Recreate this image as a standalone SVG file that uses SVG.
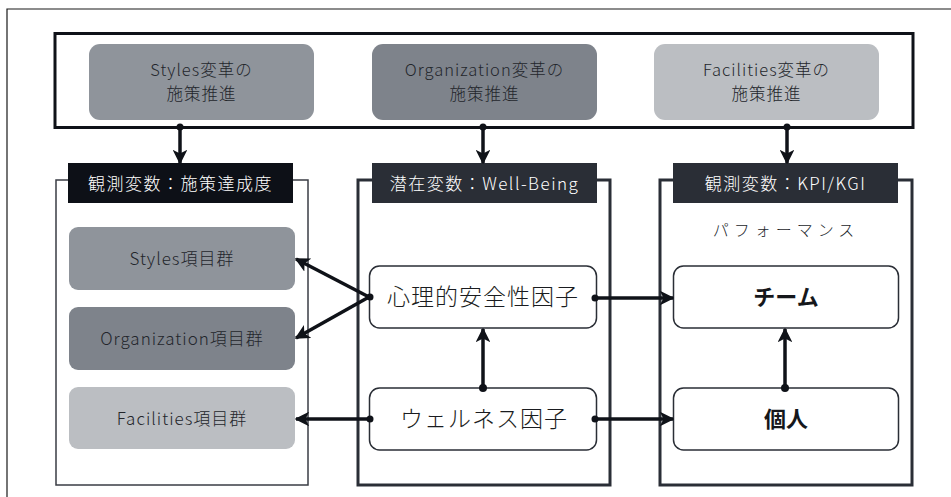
<svg xmlns="http://www.w3.org/2000/svg" width="951" height="497" viewBox="0 0 951 497">
<defs>
<style>
text{font-family:"Noto Sans CJK JP","Noto Sans",sans-serif;text-anchor:middle;font-weight:300;}
.t{font-size:16.5px;fill:#23262b;letter-spacing:1px;}
.lab{font-size:17px;fill:#ffffff;letter-spacing:1.5px;}
.item{font-size:17px;fill:#23262b;letter-spacing:1px;}
.big{font-size:23px;fill:#1a1c20;letter-spacing:1px;}
.bold{font-size:22px;font-weight:bold;fill:#15171b;}
.wbox{fill:#ffffff;stroke:#2a2e36;stroke-width:1.5;}
.conn{stroke:#0f1218;stroke-width:3.5;fill:none;}
</style>
<marker id="ah" viewBox="0 0 10 10" refX="9" refY="5" markerWidth="4.2" markerHeight="4.2" markerUnits="strokeWidth" orient="auto">
<path d="M0,0 L10,5 L0,10 L2.5,5 z" fill="#0f1218"/>
</marker>
</defs>
<rect x="0" y="0" width="951" height="497" fill="#ffffff"/>
<path d="M7,497 V9 H951" fill="none" stroke="#1a1a1a" stroke-width="1.2"/>

<g id="top-frame">
<rect x="55" y="33.5" width="858" height="94" fill="#ffffff" stroke="#0f1218" stroke-width="3"/>
</g>
<g id="styles-policy">
<rect x="89" y="44" width="225" height="76" rx="11" fill="#8f949b"/>
<text class="t" x="201.5" y="76">Styles変革の</text>
<text class="t" x="201.5" y="100">施策推進</text>
</g>
<g id="org-policy">
<rect x="372" y="44" width="225" height="76" rx="11" fill="#7e838b"/>
<text class="t" x="484.5" y="76">Organization変革の</text>
<text class="t" x="484.5" y="100">施策推進</text>
</g>
<g id="fac-policy">
<rect x="654" y="44" width="225" height="76" rx="11" fill="#bbbec2"/>
<text class="t" x="766.5" y="76">Facilities変革の</text>
<text class="t" x="766.5" y="100">施策推進</text>
</g>

<g id="left-panel">
<rect x="56" y="180" width="252" height="305" fill="#ffffff" stroke="#3a3d44" stroke-width="1.5"/>
<rect x="68" y="163" width="225" height="40" fill="#0d1017"/>
<text class="lab" x="180.5" y="190">観測変数：施策達成度</text>
</g>
<g id="styles-items">
<rect x="69" y="227" width="226" height="63" rx="9" fill="#8f949b"/>
<text class="item" x="182" y="264.5">Styles項目群</text>
</g>
<g id="org-items">
<rect x="69" y="307" width="226" height="63" rx="9" fill="#7e838b"/>
<text class="item" x="182" y="344.5">Organization項目群</text>
</g>
<g id="fac-items">
<rect x="69" y="387" width="226" height="62" rx="9" fill="#bbbec2"/>
<text class="item" x="182" y="424.5">Facilities項目群</text>
</g>

<g id="mid-panel">
<rect x="358" y="180" width="252" height="305" fill="#ffffff" stroke="#2a2e36" stroke-width="3"/>
<rect x="372" y="163" width="225" height="40" fill="#2a2e36"/>
<text class="lab" x="484.5" y="190">潜在変数：Well-Being</text>
</g>
<g id="psych-safety">
<rect class="wbox" x="369.5" y="266" width="227" height="62" rx="10"/>
<text class="big" x="483" y="305">心理的安全性因子</text>
</g>
<g id="wellness">
<rect class="wbox" x="369.5" y="388" width="227" height="62" rx="10"/>
<text class="big" x="484" y="427" letter-spacing="2">ウェルネス因子</text>
</g>

<g id="right-panel">
<rect x="660" y="180" width="252" height="305" fill="#ffffff" stroke="#2a2e36" stroke-width="3"/>
<rect x="673" y="163" width="225" height="40" fill="#2a2e36"/>
<text class="lab" x="785.5" y="190">観測変数：KPI/KGI</text>
<text x="786" y="236" font-size="16" fill="#23262b" letter-spacing="5">パフォーマンス</text>
</g>
<g id="team">
<rect class="wbox" x="673.5" y="266" width="225" height="62" rx="10"/>
<text class="bold" x="786" y="305">チーム</text>
</g>
<g id="individual">
<rect class="wbox" x="673.5" y="388" width="225" height="62" rx="10"/>
<text class="bold" x="786" y="427">個人</text>
</g>

<g id="connectors">
<line class="conn" x1="180" y1="127" x2="180" y2="163" marker-end="url(#ah)"/>
<circle cx="180" cy="127" r="3.5" fill="#0f1218"/>
<line class="conn" x1="483" y1="127" x2="483" y2="163" marker-end="url(#ah)"/>
<circle cx="483" cy="127" r="3.5" fill="#0f1218"/>
<line class="conn" x1="787" y1="127" x2="787" y2="163" marker-end="url(#ah)"/>
<circle cx="787" cy="127" r="3.5" fill="#0f1218"/>

<line class="conn" x1="369" y1="297" x2="296" y2="259" marker-end="url(#ah)"/>
<line class="conn" x1="369" y1="297" x2="296" y2="338" marker-end="url(#ah)"/>
<circle cx="370" cy="297" r="3.5" fill="#0f1218"/>
<line class="conn" x1="369" y1="419" x2="296" y2="419" marker-end="url(#ah)"/>
<circle cx="370" cy="419" r="3.5" fill="#0f1218"/>

<line class="conn" x1="483" y1="388" x2="483" y2="329" marker-end="url(#ah)"/>
<circle cx="483" cy="388" r="4" fill="#0f1218"/>

<line class="conn" x1="596" y1="298" x2="673" y2="298" marker-end="url(#ah)"/>
<circle cx="595" cy="298" r="3.5" fill="#0f1218"/>
<line class="conn" x1="596" y1="419" x2="673" y2="419" marker-end="url(#ah)"/>
<circle cx="595" cy="419" r="3.5" fill="#0f1218"/>

<line class="conn" x1="785" y1="388" x2="785" y2="329" marker-end="url(#ah)"/>
<circle cx="785" cy="388" r="4" fill="#0f1218"/>
</g>
</svg>
